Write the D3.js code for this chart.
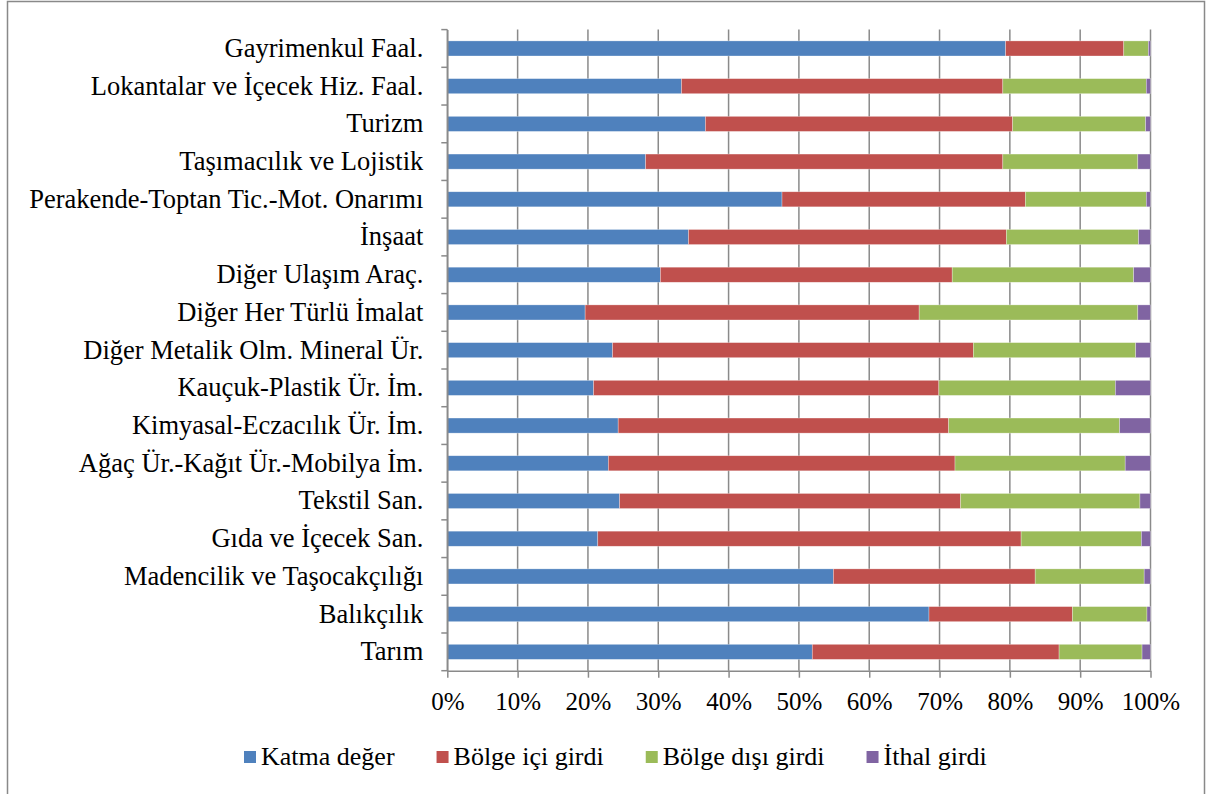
<!DOCTYPE html>
<html>
<head>
<meta charset="utf-8">
<script src="https://cdn.jsdelivr.net/npm/d3@7"></script>
<style>
  body { margin: 0; background: #fff; }
  svg { display: block; }
</style>
</head>
<body>
<div id="chart"></div>
<script>
// Width and height
var w = 1206;
var h = 794;
var margin = { top: 29.6, right: 55.5, bottom: 123.3, left: 447.3 };
var labelFont = "'Liberation Serif', 'Times New Roman', serif";

// Sectors, top to bottom
var sectors = [
    "Gayrimenkul Faal.",
    "Lokantalar ve İçecek Hiz. Faal.",
    "Turizm",
    "Taşımacılık ve Lojistik",
    "Perakende-Toptan Tic.-Mot. Onarımı",
    "İnşaat",
    "Diğer Ulaşım Araç. ",
    "Diğer Her Türlü İmalat",
    "Diğer Metalik Olm. Mineral Ür.",
    "Kauçuk-Plastik Ür. İm.",
    "Kimyasal-Eczacılık Ür. İm.",
    "Ağaç Ür.-Kağıt Ür.-Mobilya İm.",
    "Tekstil San.",
    "Gıda ve İçecek San.",
    "Madencilik ve Taşocakçılığı",
    "Balıkçılık",
    "Tarım"
];

// Shares (%) per series
var katmaDeger    = [79.4, 33.3, 36.7, 28.2, 47.6, 34.3, 30.3, 19.6, 23.5, 20.8, 24.3, 22.9, 24.5, 21.4, 54.9, 68.5, 51.9];
var bolgeIci      = [16.8, 45.7, 43.7, 50.8, 34.6, 45.2, 41.5, 47.5, 51.3, 49.1, 47.0, 49.3, 48.5, 60.2, 28.7, 20.4, 35.1];
var bolgeDisi     = [3.5, 20.4, 18.9, 19.2, 17.2, 18.8, 25.8, 31.1, 23.1, 25.1, 24.3, 24.2, 25.5, 17.1, 15.5, 10.6, 11.8];
var ithal         = [0.3, 0.6, 0.7, 1.8, 0.6, 1.7, 2.4, 1.8, 2.1, 5.0, 4.4, 3.6, 1.5, 1.3, 0.9, 0.5, 1.2];

var seriesNames = ["Katma değer", "Bölge içi girdi", "Bölge dışı girdi", "İthal girdi"];
var seriesKeys = ["katma", "ici", "disi", "ithal"];
var seriesColors = ["#4F81BD", "#C0504D", "#9BBB59", "#8064A2"];

var xTicks = [0, 0.1, 0.2, 0.3, 0.4, 0.5, 0.6, 0.7, 0.8, 0.9, 1];

// Table for the stack
var table = sectors.map(function (s, i) {
    return { sector: s, katma: katmaDeger[i], ici: bolgeIci[i], disi: bolgeDisi[i], ithal: ithal[i] };
});

var stacked = d3.stack()
    .keys(seriesKeys)
    .offset(d3.stackOffsetExpand)(table);

var innerW = w - margin.left - margin.right;
var innerH = h - margin.top - margin.bottom;

var xScale = d3.scaleLinear().domain([0, 1]).range([0, innerW]);
var yScale = d3.scaleBand()
    .domain(sectors)
    .range([0, innerH])
    .paddingInner(0.6)
    .paddingOuter(0.3);
var colorScale = d3.scaleOrdinal().domain(seriesKeys).range(seriesColors);

var svg = d3.select("#chart")
    .append("svg")
    .attr("width", w)
    .attr("height", h);

// Outer frame
svg.append("rect")
    .attr("x", 7.5)
    .attr("y", 1.5)
    .attr("width", 1197)
    .attr("height", 800)
    .attr("fill", "none")
    .attr("stroke", "#898989")
    .attr("stroke-width", 1.5);

var g = svg.append("g")
    .attr("transform", "translate(" + margin.left + "," + margin.top + ")");

// Vertical gridlines
g.append("g")
    .selectAll("line")
    .data(xTicks)
    .enter()
    .append("line")
    .attr("x1", function (d) { return xScale(d); })
    .attr("x2", function (d) { return xScale(d); })
    .attr("y1", 0)
    .attr("y2", innerH)
    .attr("stroke", "#8a8a8a")
    .attr("stroke-width", 1.5);

// Bars
g.append("g")
    .selectAll("g")
    .data(stacked)
    .enter()
    .append("g")
    .attr("fill", function (d) { return colorScale(d.key); })
    .selectAll("rect")
    .data(function (d) { return d; })
    .enter()
    .append("rect")
    .attr("x", function (d) { return xScale(d[0]); })
    .attr("y", function (d) { return yScale(d.data.sector); })
    .attr("width", function (d) { return xScale(d[1]) - xScale(d[0]); })
    .attr("height", yScale.bandwidth())
    .attr("stroke", "#ffffff")
    .attr("stroke-opacity", 0.5)
    .attr("stroke-width", 0.6);

// X axis
var xAxis = d3.axisBottom(xScale)
    .tickValues(xTicks)
    .tickFormat(d3.format(".0%"))
    .tickSizeInner(7)
    .tickSizeOuter(0)
    .tickPadding(15);

var xg = g.append("g")
    .attr("class", "x axis")
    .attr("transform", "translate(0," + innerH + ")")
    .call(xAxis);

// Y axis
var yAxis = d3.axisLeft(yScale)
    .tickSize(0)
    .tickPadding(24);

var yg = g.append("g")
    .attr("class", "y axis")
    .call(yAxis);

// Category boundary ticks on the y axis
var step = yScale.step();
g.append("g")
    .selectAll("line")
    .data(d3.range(sectors.length + 1))
    .enter()
    .append("line")
    .attr("x1", -6)
    .attr("x2", 0)
    .attr("y1", function (d) { return d * step; })
    .attr("y2", function (d) { return d * step; })
    .attr("stroke", "#8a8a8a")
    .attr("stroke-width", 1.5);

[xg, yg].forEach(function (ax) {
    ax.select(".domain").attr("stroke", "#8a8a8a").attr("stroke-width", 1.5);
    ax.selectAll(".tick line").attr("stroke", "#8a8a8a").attr("stroke-width", 1.5);
    ax.selectAll("text")
        .attr("fill", "#000")
        .attr("font-family", labelFont);
});
xg.selectAll("text").attr("font-size", "25px");
yg.selectAll("text").attr("font-size", "26.5px");

// Legend
var legend = svg.append("g").attr("class", "legend");
var lx = 244;
seriesNames.forEach(function (name, i) {
    legend.append("rect")
        .attr("x", lx)
        .attr("y", 751)
        .attr("width", 12)
        .attr("height", 12)
        .attr("fill", seriesColors[i]);
    var t = legend.append("text")
        .attr("x", lx + 17)
        .attr("y", 765)
        .attr("font-family", labelFont)
        .attr("font-size", "26px")
        .attr("fill", "#000")
        .text(name);
    lx = lx + 17 + t.node().getComputedTextLength() + 42;
});
</script>
</body>
</html>
